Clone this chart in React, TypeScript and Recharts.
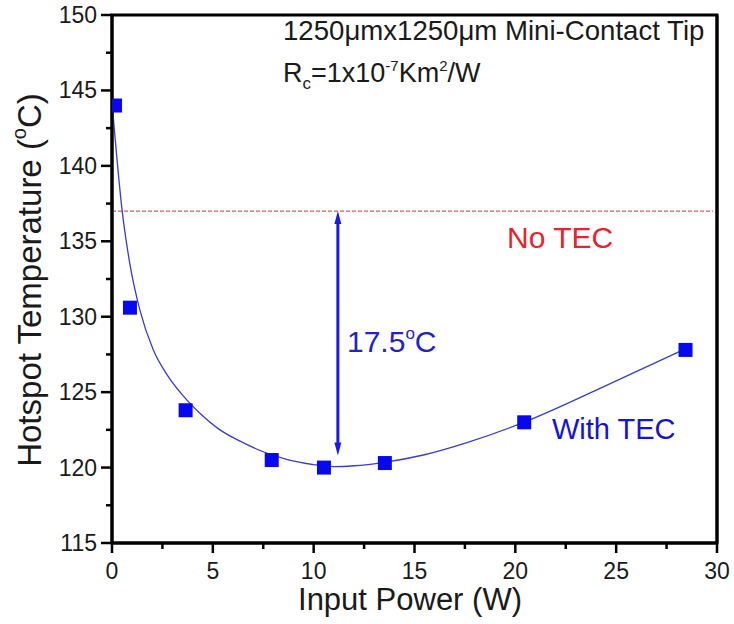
import React from "react";
import {
  ComposedChart,
  Line,
  Scatter,
  XAxis,
  YAxis,
  ReferenceLine,
  ReferenceArea,
} from "recharts";

// measured points (With TEC)
const powerW = [0.15, 0.89, 3.65, 7.92, 10.51, 13.53, 20.44, 28.44];
const hotspotC = [144.0, 130.6, 123.8, 120.5, 120.0, 120.3, 123.0, 127.8];

// fitted curve
const fitPower = [0, 0.15, 0.48, 0.86, 1.39, 2.05, 2.71, 3.5, 4.36, 5.3, 6.35, 7.5, 8.66, 10, 11, 12, 13.5, 15.5, 17.6, 20.6, 24.2, 28.4];
const fitTemp = [144.2, 141.9, 137.3, 133.7, 130.4, 127.8, 126.2, 124.8, 123.6, 122.55, 121.75, 121.05, 120.55, 120.2, 120.06, 120.12, 120.35, 120.85, 121.65, 123.1, 125.25, 127.85];

const noTecTemp = 137.0;
const arrowAt = 11.2;
const arrowBottom = 120.8;

const xTicks = [0, 2.5, 5, 7.5, 10, 12.5, 15, 17.5, 20, 22.5, 25, 27.5, 30];
const yTicks = [115, 117.5, 120, 122.5, 125, 127.5, 130, 132.5, 135, 137.5, 140, 142.5, 145, 147.5, 150];

const points = powerW.map((x, i) => ({ x, y: hotspotC[i] }));
const fit = fitPower.map((x, i) => ({ x, y: fitTemp[i] }));

const FONT = "'Liberation Sans', Arial, sans-serif";
const AXIS_W = 3;
const PLOT_LEFT = 112;

const BottomTick = (p: any) => {
  const major = p.payload.value % 5 === 0;
  return (
    <g>
      <line x1={p.x} y1={p.y} x2={p.x} y2={p.y + (major ? 10 : 6)} stroke="#000" strokeWidth={2.5} />
      {major && (
        <text x={p.x} y={p.y + 36} textAnchor="middle" fontSize={23} fontFamily={FONT} fill="#1a1a1a">
          {p.payload.value}
        </text>
      )}
    </g>
  );
};

const LeftTick = (p: any) => {
  const major = p.payload.value % 5 === 0;
  return (
    <g>
      <line x1={p.x} y1={p.y} x2={p.x - (major ? 11 : 6)} y2={p.y} stroke="#000" strokeWidth={2.5} />
      {major && (
        <text x={p.x - 15} y={p.y + 8} textAnchor="end" fontSize={23} fontFamily={FONT} fill="#1a1a1a">
          {p.payload.value}
        </text>
      )}
    </g>
  );
};

const TopTick = (p: any) => (
  <line x1={p.x} y1={p.y} x2={p.x} y2={p.y + 9} stroke="#000" strokeWidth={2.5} />
);

const RightTick = (p: any) => (
  <line x1={p.x} y1={p.y} x2={p.x - 9} y2={p.y} stroke="#000" strokeWidth={2.5} />
);

const Square = (p: any) => {
  const left = Math.max(p.cx - 7, PLOT_LEFT);
  return <rect x={left} y={p.cy - 7} width={p.cx + 7 - left} height={14} fill="#0808f0" />;
};

const Arrow = (p: any) => {
  const x = p.x1;
  const top = Math.min(p.y1, p.y2);
  const bot = Math.max(p.y1, p.y2);
  const c = "#1a1ae6";
  return (
    <g>
      <line x1={x} y1={top + 8} x2={x} y2={bot - 8} stroke={c} strokeWidth={3} />
      <polygon points={`${x},${top} ${x - 3.5},${top + 13} ${x + 3.5},${top + 13}`} fill={c} />
      <polygon points={`${x},${bot} ${x - 3.5},${bot - 13} ${x + 3.5},${bot - 13}`} fill={c} />
    </g>
  );
};

export default function App() {
  return (
    <div style={{ position: "absolute", left: 0, top: 0, width: 734, height: 624, background: "#fff" }}>
      <ComposedChart
        width={734}
        height={624}
        margin={{ top: 15, right: 0, bottom: 0, left: 0 }}
      >
        <XAxis
          dataKey="x"
          type="number"
          domain={[0, 30]}
          ticks={xTicks}
          interval={0}
          height={81}
          tickSize={0}
          tickMargin={0}
          tickLine={false}
          tick={<BottomTick />}
          axisLine={{ stroke: "#000", strokeWidth: AXIS_W }}
          allowDataOverflow
        />
        <XAxis
          xAxisId="top"
          orientation="top"
          type="number"
          domain={[0, 30]}
          ticks={xTicks}
          interval={0}
          height={0}
          tickSize={0}
          tickMargin={0}
          tickLine={false}
          tick={<TopTick />}
          axisLine={{ stroke: "#000", strokeWidth: AXIS_W }}
        />
        <YAxis
          type="number"
          domain={[115, 150]}
          ticks={yTicks}
          interval={0}
          width={112}
          tickSize={0}
          tickMargin={0}
          tickLine={false}
          tick={<LeftTick />}
          axisLine={{ stroke: "#000", strokeWidth: AXIS_W }}
          allowDataOverflow
        />
        <YAxis
          yAxisId="right"
          orientation="right"
          type="number"
          domain={[115, 150]}
          ticks={yTicks}
          interval={0}
          width={17}
          tickSize={0}
          tickMargin={0}
          tickLine={false}
          tick={<RightTick />}
          axisLine={{ stroke: "#000", strokeWidth: AXIS_W }}
        />
        <ReferenceArea
          x1={0}
          x2={30}
          y1={115}
          y2={150}
          fill="none"
          fillOpacity={0}
          stroke="#000"
          strokeWidth={AXIS_W}
          strokeOpacity={1}
        />
        <ReferenceLine
          segment={[
            { x: 0, y: noTecTemp },
            { x: 29.8, y: noTecTemp },
          ]}
          stroke="#e02828"
          strokeWidth={1}
          strokeDasharray="4 2"
        />
        <ReferenceLine
          segment={[
            { x: arrowAt, y: noTecTemp },
            { x: arrowAt, y: arrowBottom },
          ]}
          shape={Arrow}
        />
        <Line
          data={fit}
          dataKey="y"
          type="monotone"
          stroke="#3b3bcc"
          strokeWidth={1.3}
          dot={false}
          activeDot={false}
          isAnimationActive={false}
        />
        <Scatter data={points} dataKey="y" shape={Square} isAnimationActive={false} />
      </ComposedChart>

      <svg
        width={734}
        height={624}
        style={{ position: "absolute", left: 0, top: 0, pointerEvents: "none" }}
        fontFamily={FONT}
      >
        <text x={283} y={40} fontSize={27.6} fill="#1a1a1a">
          1250μmx1250μm Mini-Contact Tip
        </text>
        <text x={283} y={82} fontSize={27} fill="#1a1a1a">
          R<tspan fontSize={17} dy={7}>c</tspan>
          <tspan dy={-7}>=1x10</tspan>
          <tspan fontSize={15} dy={-11}>-7</tspan>
          <tspan dy={11}>Km</tspan>
          <tspan fontSize={15} dy={-11}>2</tspan>
          <tspan dy={11}>/W</tspan>
        </text>
        <text x={507} y={248} fontSize={30} fill="#e8242a">
          No TEC
        </text>
        <text x={347} y={352} fontSize={30} fill="#2222c8">
          17.5<tspan fontSize={17} dy={-13}>o</tspan>
          <tspan dy={13}>C</tspan>
        </text>
        <text x={552} y={439} fontSize={29} fill="#1414d8">
          With TEC
        </text>
        <text x={410} y={610} fontSize={31} textAnchor="middle" fill="#1a1a1a">
          Input Power (W)
        </text>
        <text
          transform="translate(41,280) rotate(-90)"
          fontSize={33}
          textAnchor="middle"
          fill="#1a1a1a"
        >
          Hotspot Temperature (<tspan fontSize={20} dy={-15}>o</tspan>
          <tspan dy={15}>C)</tspan>
        </text>
      </svg>
    </div>
  );
}
